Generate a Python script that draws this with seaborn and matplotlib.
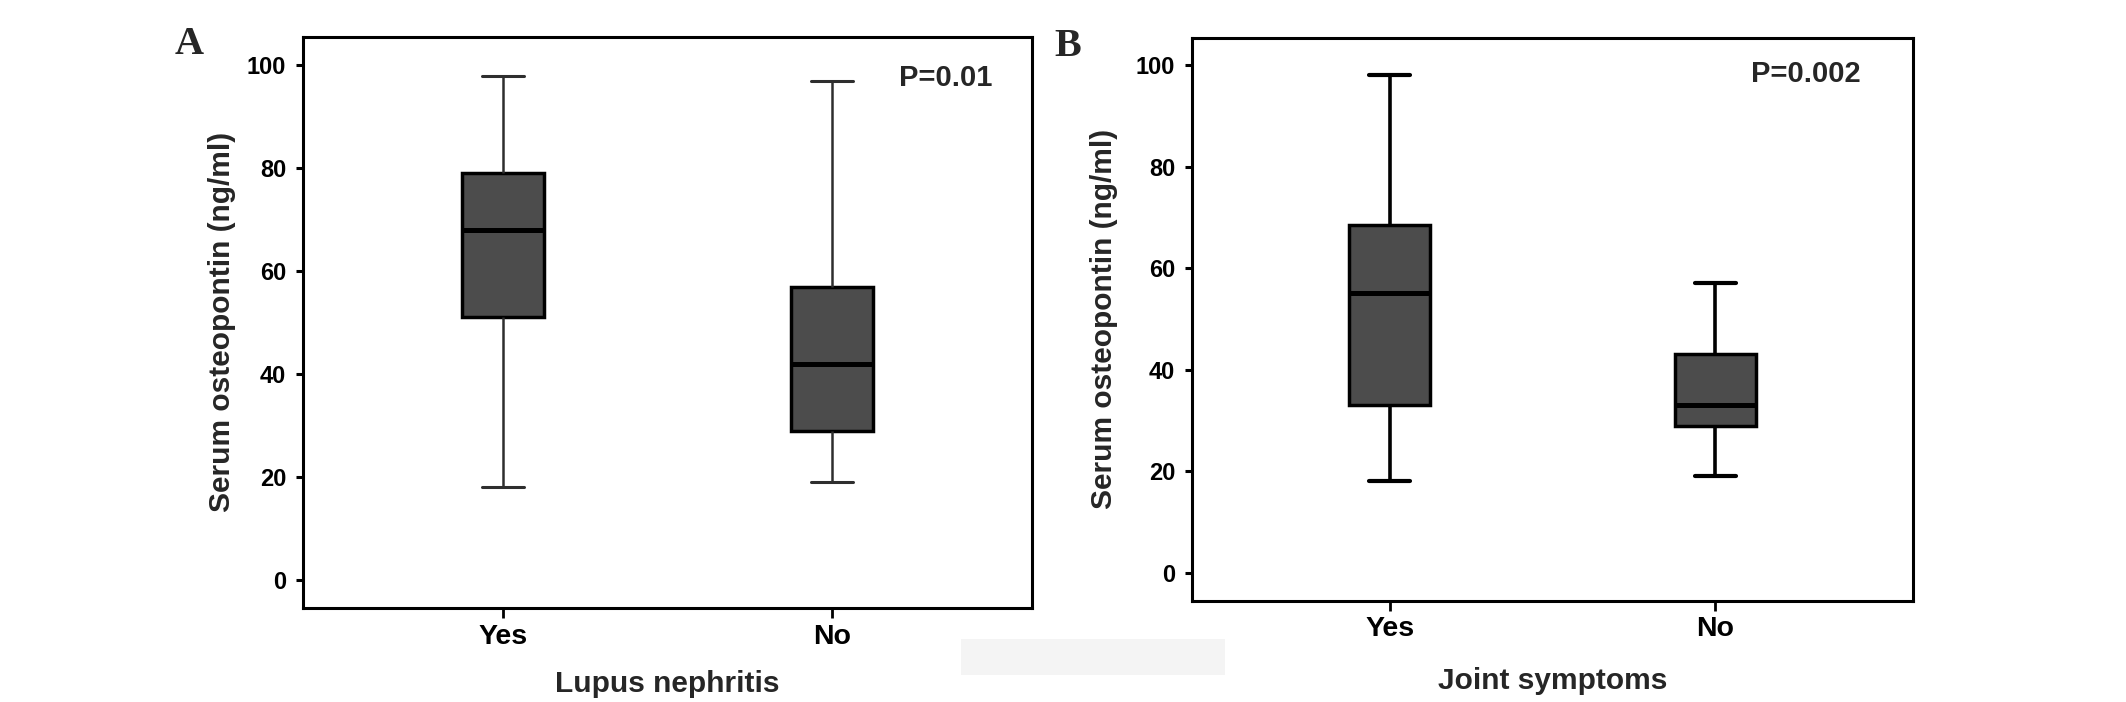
import numpy as np
import pandas as pd
import matplotlib
matplotlib.use("Agg")
import matplotlib.pyplot as plt
from matplotlib.patches import Rectangle
import seaborn as sns

# ---- data (five-number summaries) ----
categories = ["Yes", "No"]
# Panel A: Lupus nephritis  [min, Q1, median, Q3, max]
lupus_yes = [18, 51, 68, 79, 98]
lupus_no = [19, 29, 42, 57, 97]
# Panel B: Joint symptoms
joint_yes = [18, 33, 55, 68.5, 98]
joint_no = [19, 29, 33, 43, 57]
y_ticks = [0, 20, 40, 60, 80, 100]
p_values = ["P=0.01", "P=0.002"]
x_titles = ["Lupus nephritis", "Joint symptoms"]
y_title = "Serum osteopontin (ng/ml)"
panel_letters = ["A", "B"]

sns.set_style("ticks")
plt.rcParams["font.family"] = ["Liberation Sans", "DejaVu Sans"]
plt.rcParams["font.weight"] = "bold"

W, H = 2126, 702
fig = plt.figure(figsize=(W / 100, H / 100), dpi=100)


def frac_rect(l, r, t, b):
    return [l / W, 1 - b / H, (r - l) / W, (b - t) / H]


axA = fig.add_axes(frac_rect(303, 1032, 36.6, 608))
axB = fig.add_axes(frac_rect(1192, 1913, 37.5, 600.5))

panels = [
    (axA, lupus_yes, lupus_no, (-5.5, 105.6), 1.8, "#2e2e2e", -0.111, -0.133, (0.881, 0.9275)),
    (axB, joint_yes, joint_no, (-5.45, 105.4), 2.6, "black", -0.122, -0.143, (0.851, 0.935)),
]

for i, (ax, yes_vals, no_vals, ylim, wlw, wcol, ylab_x, xlab_y, ppos) in enumerate(panels):
    df = pd.DataFrame({
        "group": [categories[0]] * len(yes_vals) + [categories[1]] * len(no_vals),
        "value": yes_vals + no_vals,
    })
    sns.boxplot(
        data=df, x="group", y="value", order=categories, ax=ax,
        color="#4c4c4c", saturation=1, linecolor="black", linewidth=2.5,
        width=0.25, whis=(0, 100), fliersize=0,
        boxprops=dict(edgecolor="black", linewidth=2.5),
        medianprops=dict(color="black", linewidth=3.6, solid_capstyle="butt"),
        whiskerprops=dict(color=wcol, linewidth=wlw),
        capprops=dict(color=wcol, linewidth=wlw + 0.4),
    )
    ax.set_xlim(-0.608, 1.608)
    ax.set_ylim(*ylim)
    ax.set_yticks(y_ticks)
    ax.set_yticklabels([str(t) for t in y_ticks], fontsize=17, fontweight="bold")
    ax.set_xticks([0, 1])
    ax.set_xticklabels(categories, fontsize=20.5, fontweight="bold")
    for side in ["left", "right", "top", "bottom"]:
        ax.spines[side].set_visible(True)
        ax.spines[side].set_linewidth(2.2)
        ax.spines[side].set_color("black")
    ax.tick_params(axis="y", direction="out", length=5, width=2.2, pad=7, colors="black")
    ax.tick_params(axis="x", direction="out", length=7, width=2.0, pad=4.5, colors="black")
    ax.set_ylabel(y_title, fontsize=21.5, fontweight="bold", va="center")
    ax.yaxis.set_label_coords(ylab_x, 0.5)
    ax.set_xlabel(x_titles[i], fontsize=21.5, fontweight="bold", va="center")
    ax.xaxis.set_label_coords(0.5, xlab_y)
    ax.text(ppos[0], ppos[1], p_values[i], transform=ax.transAxes,
            fontsize=21, fontweight="bold", ha="center", va="center")

fig.text(189 / W, 1 - 44 / H, panel_letters[0], fontsize=29, fontweight="bold",
         family=["Liberation Serif", "DejaVu Serif"], ha="center", va="center")
fig.text(1067.5 / W, 1 - 46 / H, panel_letters[1], fontsize=29, fontweight="bold",
         family=["Liberation Serif", "DejaVu Serif"], ha="center", va="center")

# faint gray strip at the bottom centre of the original figure
fig.patches.append(Rectangle((961 / W, 1 - 675 / H), (1225 - 961) / W, 36 / H,
                             transform=fig.transFigure, facecolor="#f4f4f4",
                             edgecolor="none", zorder=0))

fig.savefig("out.png", dpi=100, facecolor="white")
